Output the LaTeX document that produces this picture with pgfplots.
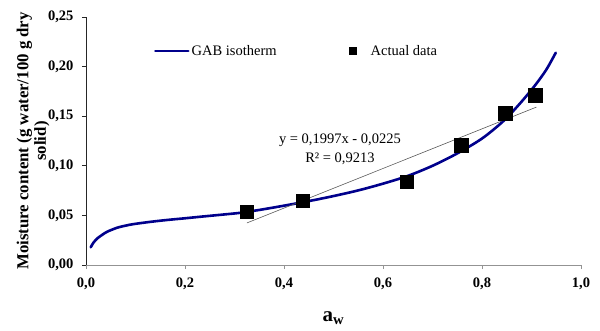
\documentclass[border=0pt]{standalone}
\usepackage{fontspec}
\setmainfont{Liberation Serif}
\usepackage{pgfplots}
\pgfplotsset{compat=1.18}
\definecolor{gabblue}{RGB}{0,0,140}
\begin{document}
\begin{tikzpicture}
\begin{axis}[
  width=495pt, height=248pt, scale only axis,
  xmin=0, xmax=1, ymin=0, ymax=0.25,
  axis x line*=bottom, axis y line*=left,
  axis line style={-},
  x axis line style={draw=gray!85, line width=0.9pt},
  y axis line style={draw=black!85, line width=0.9pt},
  xtick={0,0.2,0.4,0.6,0.8,1.0},
  ytick={0,0.05,0.10,0.15,0.20,0.25},
  minor tick num=0,
  tick align=outside,
  major tick length=4pt,
  x tick style={draw=gray!85, line width=0.9pt},
  y tick style={draw=black!85, line width=0.9pt},
  scaled x ticks=false, scaled y ticks=false,
  /pgf/number format/assume math mode=true,
  ticklabel style={font=\fontsize{14.5}{16}\selectfont\bfseries},
  xticklabel style={yshift=-5pt, /pgf/number format/.cd, fixed, fixed zerofill, precision=1, use comma},
  yticklabel style={xshift=-5pt, /pgf/number format/.cd, fixed, fixed zerofill, precision=2, use comma},
  xlabel={a\textsubscript{w}},
  xlabel style={font=\fontsize{21}{24}\selectfont\bfseries, at={(axis description cs:0.5,-0.214)}, anchor=center},
  ylabel={Moisture content (g water/100 g dry\\solid)},
  ylabel style={font=\fontsize{16.8}{17.5}\selectfont\bfseries, align=center, at={(axis description cs:-0.107,0.5)}, anchor=center, rotate=0},
  legend style={draw=none, fill=none, at={(axis description cs:0.131,0.863)}, anchor=west,
    font=\fontsize{14.5}{16}\selectfont, legend columns=2,
    /tikz/every even column/.append style={column sep=70pt}},
  legend cell align=left,
  clip=false,
]
\addplot[gabblue, line width=2.6pt, smooth, line cap=round,
  legend image code/.code={\draw[gabblue, line width=2.6pt] (0pt,0pt) -- (33pt,0pt);}]
  coordinates {
  (0.0095,0.0178) (0.015,0.0225) (0.023,0.0269) (0.033,0.0305) (0.043,0.0336)
  (0.063,0.0376) (0.080,0.0397) (0.097,0.0413) (0.130,0.0435) (0.164,0.0454)
  (0.200,0.0471) (0.232,0.0487) (0.280,0.0510) (0.313,0.0527) (0.350,0.0555)
  (0.400,0.0598) (0.456,0.0650) (0.500,0.0695) (0.550,0.0752) (0.600,0.0820)
  (0.650,0.0898) (0.700,0.1000) (0.750,0.1125) (0.800,0.1275) (0.843,0.1450)
  (0.877,0.1630) (0.907,0.1810) (0.930,0.1970) (0.949,0.2140)
  };
\addlegendentry{GAB isotherm}
\addplot[only marks, mark=square*, mark size=6.8pt, mark options={fill=black, draw=black},
  legend image code/.code={\path[draw=none, fill=none] (0pt,0pt) -- (20pt,0pt); \fill[black, draw=none] (0pt,-4.2pt) rectangle (8.4pt,4.2pt);}]
  coordinates {
  (0.325,0.0537) (0.438,0.0648) (0.648,0.0840) (0.758,0.1210) (0.847,0.1530) (0.907,0.1710)
  };
\addlegendentry{Actual data}
\addplot[gray!70!black, line width=0.6pt, forget plot] coordinates {(0.325,0.0424) (0.910,0.1592)};
\node[font=\fontsize{14.5}{16}\selectfont] at (axis cs:0.513,0.126) {y = 0,1997x - 0,0225};
\node[font=\fontsize{14.5}{16}\selectfont] at (axis cs:0.513,0.107) {R² = 0,9213};
\end{axis}
\pgfresetboundingbox
\path (current axis.south west) ++(-86pt,-65pt) rectangle ++(600pt,330pt);
\end{tikzpicture}
\end{document}
